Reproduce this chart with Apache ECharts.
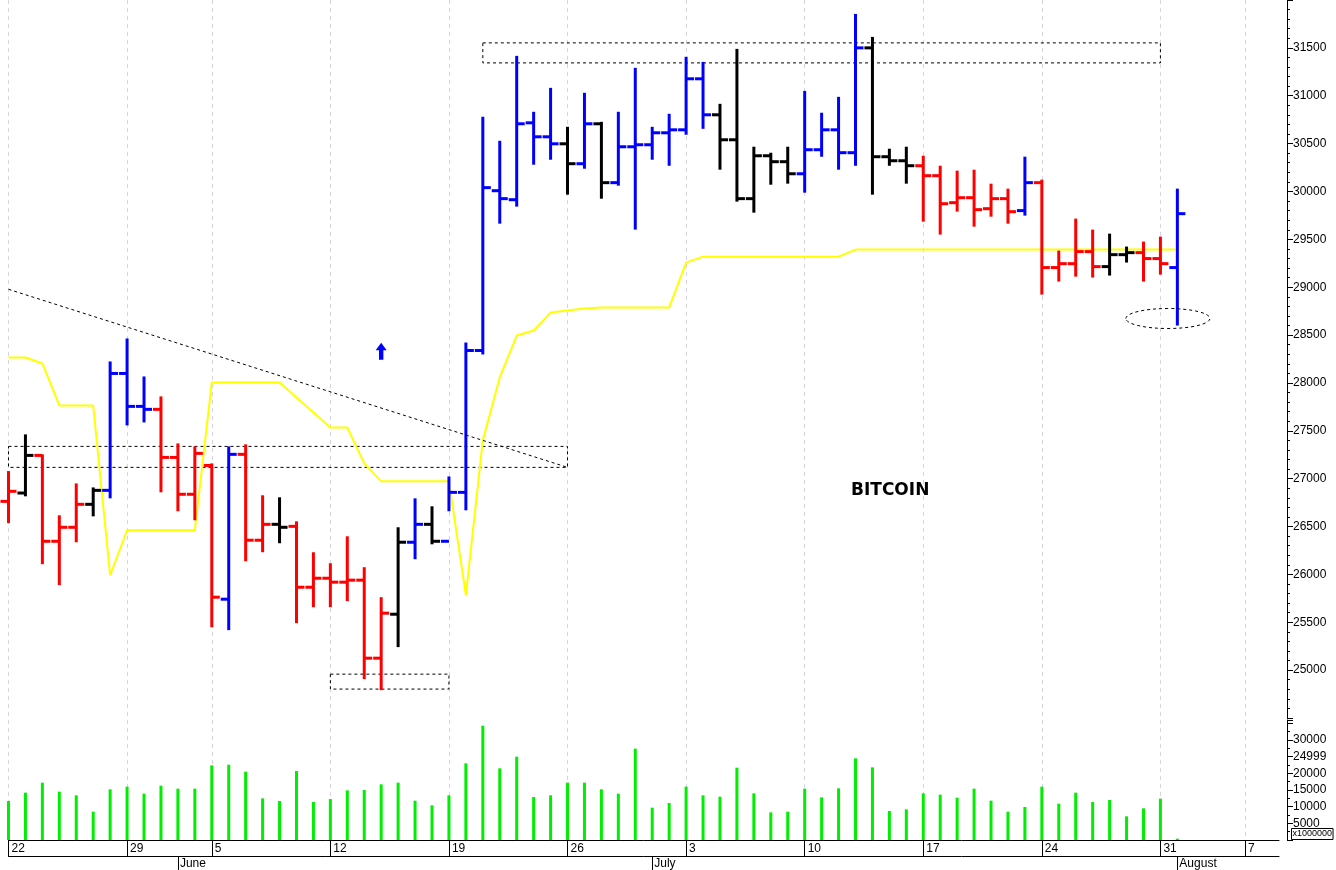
<!DOCTYPE html>
<html><head><meta charset="utf-8">
<script src="https://cdn.jsdelivr.net/npm/echarts@6/dist/echarts.min.js"></script>
<style>html,body{margin:0;padding:0;background:#fff}#c{width:1336px;height:870px}</style>
</head><body><div id="c"></div>
<script>
// categories: daily bars, then future slots
const categories = [
 '05-22','05-23','05-24','05-25','05-26','05-27','05-28','05-29','05-30','05-31',
 '06-03','06-04','06-05','06-06','06-07','06-08','06-09','06-10','06-11','06-12','06-13','06-14','06-15','06-16','06-17','06-18','06-19','06-20','06-21','06-22','06-23','06-24','06-25','06-26','06-27','06-28','06-29','06-30',
 '07-01','07-02','07-03','07-04','07-05','07-06','07-07','07-08','07-09','07-10','07-11','07-12','07-13','07-14','07-15','07-16','07-17','07-18','07-19','07-20','07-21','07-22','07-23','07-24','07-25','07-26','07-27','07-28','07-29','07-30','07-31',
 '08-01','08-04','08-05','08-06','08-07','08-08','08-09'];
const dayLabels = ['05-22','05-29','06-05','06-12','06-19','06-26','07-03','07-10','07-17','07-24','07-31','08-07'];
const monthLabels = {'06-03':'June','07-01':'July','08-01':'August'};
const open  = [26763,26850,27243,26346,26492,26732,26878,28099,27755,27724,27222,26837,27138,25741,27254,26357,26523,26502,25866,25960,25919,25940,25125,25584,26336,26523,26346,26857,28339,30008,29914,30717,30571,30498,30290,30707,30092,30467,30488,30613,30644,31177,30801,30540,29925,30373,30311,30185,30436,30644,30405,31500,30363,30321,30269,30165,29883,29935,29820,29925,29800,30092,29205,29246,29372,29215,29340,29361,29299,29205];
const high  = [27069,27452,27243,26607,26940,26898,28214,28454,28057,27849,27358,27327,27149,27327,27348,26816,26795,26544,26221,26106,26388,26065,25752,26482,26784,26701,27013,28412,30770,30519,31406,30822,31072,30665,31020,30717,30822,31281,30665,30801,31396,31343,30905,31479,30457,30394,30457,31040,30812,30978,31844,31604,30436,30457,30363,30259,30207,30217,30071,30019,30353,30113,29372,29706,29591,29549,29414,29466,29518,30019];
const low   = [26547,26826,26117,25898,26346,26617,26805,27567,27598,26868,26670,26576,25459,25428,26148,26242,26336,25501,25668,25668,25731,24917,24801,25251,26169,26325,26670,26680,28308,29674,29852,30290,30342,29977,30248,29935,30071,29612,30342,30279,30603,30665,30238,29904,29789,30081,30092,29998,30373,30238,30279,29977,30279,30092,29695,29560,29800,29643,29747,29674,29758,28933,29069,29121,29111,29132,29268,29069,29142,28610];
const close = [26868,27243,26346,26492,26732,26878,28099,27755,27724,27222,26837,27264,25762,27254,26357,26523,26492,25866,25960,25919,25940,25125,25595,26336,26523,26346,26857,28339,30040,29925,30707,30571,30498,30290,30707,30092,30467,30488,30613,30644,31177,30801,30540,29925,30373,30311,30185,30436,30644,30405,31500,30363,30321,30269,30165,29872,29935,29810,29925,29789,30092,29205,29246,29372,29215,29340,29361,29299,29246,29768];
const barColor = 'rkrrrkbbbrrrrbrrkrrrrrrkbkbbbbbbbkbkbbbbbbkkkkkbbbbkkkrrrrrrbrrrrkkrrb';
const trendLine = [28266,28266,28203,27765,27765,27765,25991,26461,26461,26461,26461,26461,28005,28005,28005,28005,28005,27848,27692,27535,27535,27160,26972,26972,26972,26972,26972,25783,27400,28057,28495,28547,28735,28756,28777,28787,28787,28787,28787,28787,29257,29319,29319,29319,29319,29319,29319,29319,29319,29319,29393,29393,29393,29393,29393,29393,29393,29393,29393,29393,29393,29393,29393,29393,29393,29393,29393,29393,29393,29393];
const volume = [11700,14200,17200,14500,13400,8500,15200,16000,13900,16300,15400,15400,22400,22600,20500,12500,11700,20700,11400,12300,14900,15000,16700,17200,11800,10400,13400,23000,34300,21500,25000,12900,13400,17200,17200,15200,13900,27400,9700,11100,16000,13400,13000,21700,14000,8300,8500,15400,12800,15500,24500,21800,8700,9200,14000,13600,12700,15400,11800,8500,9900,16000,10900,14200,11400,12000,7100,9500,12400,400];
const volTickLabels = {5000:'5000',10000:'10000',15000:'15000',20000:'20000',25000:'24999',30000:'30000'};

const colMap = {r:'#ff0000', b:'#0000ff', k:'#000000'};
const ohlc = open.map((o,i)=>[i, o, high[i], low[i], close[i]]);
const isMonday = (i,v)=>dayLabels.indexOf(v)>=0;
const isMonth = (i,v)=>monthLabels[v]!==undefined;
const font = 'Liberation Sans';

const chart = echarts.init(document.getElementById('c'));
const gridLine = {show:true, interval:isMonday, lineStyle:{color:'#d4d4e4', type:[4,4], width:1}};
chart.setOption({
  animation:false,
  grid:[
    {left:8.5, width:1270.5, top:-1, height:719},
    {left:8.5, width:1270.5, top:720, height:120.7}
  ],
  xAxis:[
    {type:'category', gridIndex:0, data:categories, boundaryGap:false, axisLine:{show:false}, axisTick:{show:false}, axisLabel:{show:false}, splitLine:gridLine},
    {type:'category', gridIndex:1, data:categories, boundaryGap:false, position:'bottom',
     axisLine:{show:true, lineStyle:{color:'#000', width:1}},
     axisTick:{show:true, interval:isMonday, length:16, lineStyle:{color:'#000'}},
     axisLabel:{show:true, interval:isMonday, formatter:v=>String(parseInt(v.slice(3),10)), align:'left', padding:[0,0,0,3], margin:3, fontFamily:font, fontSize:12, color:'#000'},
     splitLine:gridLine},
    {type:'category', gridIndex:1, data:categories, boundaryGap:false, position:'bottom', offset:16,
     axisLine:{show:true, lineStyle:{color:'#000', width:1}},
     axisTick:{show:true, interval:isMonth, length:14, lineStyle:{color:'#000'}},
     axisLabel:{show:true, interval:isMonth, formatter:v=>monthLabels[v]||'', align:'left', padding:[0,0,0,2], margin:2, fontFamily:font, fontSize:12, color:'#000'},
     splitLine:{show:false}}
  ],
  yAxis:[
    {type:'value', gridIndex:0, position:'right', offset:8, min:24500, max:32000, interval:500,
     axisLine:{show:true, lineStyle:{color:'#000'}}, axisTick:{show:true, length:6, lineStyle:{color:'#000'}},
     minorTick:{show:true, splitNumber:5, length:3, lineStyle:{color:'#000'}},
     axisLabel:{fontFamily:font, fontSize:12, color:'#000', margin:6, formatter:v=>(v===24500||v===32000)?'':String(v)},
     splitLine:{show:false}},
    {type:'value', gridIndex:1, position:'right', offset:8, min:0, max:36000, interval:5000,
     axisLine:{show:true, lineStyle:{color:'#000'}}, axisTick:{show:true, length:6, lineStyle:{color:'#000'}},
     minorTick:{show:true, splitNumber:2, length:3, lineStyle:{color:'#000'}},
     axisLabel:{fontFamily:font, fontSize:12, color:'#000', margin:6, formatter:v=>volTickLabels[v]||''},
     splitLine:{show:false}}
  ],
  series:[
    {type:'line', xAxisIndex:0, yAxisIndex:0, data:trendLine, symbol:'none', z:2,
     lineStyle:{color:'#ffff00', width:2},
     markArea:{silent:true, itemStyle:{color:'rgba(0,0,0,0)', borderColor:'#000', borderWidth:1, borderType:[3,3]},
       data:[
        [{coord:[28,31552]},{coord:[68,31343]}],
        [{coord:[0,27337]},{coord:[33,27118]}],
        [{coord:[19,24958]},{coord:[26,24802]}]
       ]},
     markLine:{silent:true, symbol:'none', label:{show:false}, lineStyle:{color:'#000', width:1, type:[3,3]},
       data:[[{coord:[0,28978]},{coord:[33,27118]}]]},
     markPoint:{silent:true, label:{show:false},
       data:[{coord:[22,28330], symbol:'path://M5,0 L10,7 L7,7 L7,16 L3,16 L3,7 L0,7 Z', symbolSize:[11,17], itemStyle:{color:'#0000ff'}}]}
    },
    {type:'custom', xAxisIndex:0, yAxisIndex:0, data:ohlc, z:3,
     renderItem:(params, api)=>{
       const x = api.value(0);
       const pH = api.coord([x, api.value(2)]), pL = api.coord([x, api.value(3)]);
       const pO = api.coord([x, api.value(1)]), pC = api.coord([x, api.value(4)]);
       const c = colMap[barColor[params.dataIndex]];
       const st = {stroke:c, lineWidth:3};
       return {type:'group', children:[
         {type:'line', shape:{x1:pH[0], y1:pH[1]-1, x2:pL[0], y2:pL[1]+1}, style:st},
         {type:'line', shape:{x1:pO[0]-8, y1:pO[1], x2:pO[0], y2:pO[1]}, style:st},
         {type:'line', shape:{x1:pC[0], y1:pC[1], x2:pC[0]+8, y2:pC[1]}, style:st}
       ]};
     }},
    {type:'bar', xAxisIndex:1, yAxisIndex:1, data:volume, barWidth:3, itemStyle:{color:'#00ee00'}}
  ]
});
const c1 = chart.convertToPixel({xAxisIndex:0, yAxisIndex:0}, [68, 28673]);
const c2 = chart.convertToPixel({xAxisIndex:0, yAxisIndex:0}, [69, 28673]);
chart.setOption({graphic:[
  {type:'ellipse', shape:{cx:(c1[0]+c2[0])/2 - 1, cy:c1[1], rx:42, ry:10}, style:{fill:'none', stroke:'#000', lineWidth:1, lineDash:[3,3]}, z:5},
  {type:'text', left:851, top:482, style:{text:'BITCOIN', font:'bold 17px "DejaVu Sans"', fill:'#000'}, z:5},
  {type:'text', left:1291, top:828, style:{text:'x1000000', font:'9px "Liberation Sans"', fill:'#000', borderColor:'#000', borderWidth:1, padding:[1,1]}, z:5}
]});
</script></body></html>
